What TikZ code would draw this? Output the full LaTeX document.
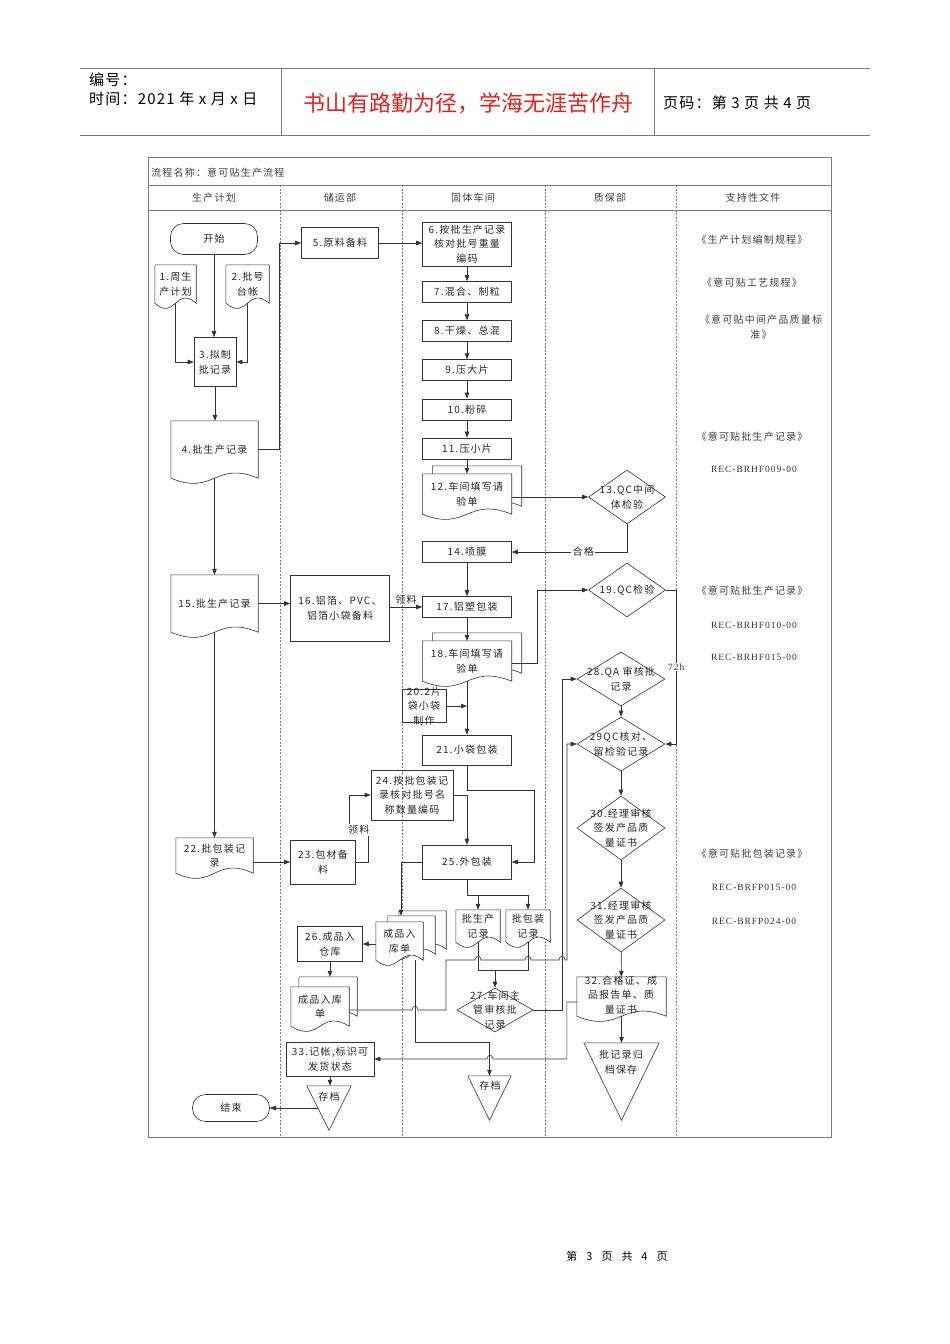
\documentclass[tikz,border=0pt]{standalone}
\usepackage{fontspec}
\setmainfont{Noto Sans CJK SC}
\newfontfamily\cjk{Noto Sans CJK SC}[LetterSpace=12]
\newfontfamily\hdfont{Noto Sans CJK SC}[LetterSpace=8]
\newfontfamily\mottofont{Noto Sans CJK SC}
\newfontfamily\recfont{Liberation Serif}[LetterSpace=10]
\usetikzlibrary{shapes.geometric,arrows.meta,positioning,calc}
\definecolor{inkgray}{HTML}{333333}
\definecolor{framegray}{HTML}{7A7A7A}
\definecolor{mottored}{HTML}{E3211C}
\pgfdeclarelayer{lanes}
\pgfdeclarelayer{docs}
\pgfsetlayers{lanes,docs,main}

% document symbol round a node: name, x offset, y offset (pt, upwards)
\newcommand\docsym[3]{%
  \begin{pgfonlayer}{docs}
  \draw[docline] ([shift={(#2pt,#3pt)}]#1.north west) -- ([shift={(#2pt,#3pt)}]#1.north east)
    -- ([shift={(#2pt,#3pt)}]#1.south east)
    .. controls ([shift={(#2pt,#3pt+18pt)}]#1.south) and ([shift={(#2pt,#3pt-18pt)}]#1.south)
    .. ([shift={(#2pt,#3pt)}]#1.south west) -- cycle;
  \end{pgfonlayer}}
% archive triangle in a node's box
\newcommand\archsym[1]{%
  \begin{pgfonlayer}{docs}
  \draw[docline] (#1.north west) -- (#1.north east) -- (#1.south) -- cycle;
  \end{pgfonlayer}}

\tikzset{
  every node/.style={font=\cjk\fontsize{10}{14.5}\selectfont, text=black!85, inner sep=1pt, align=center},
  box/.style={draw=inkgray, line width=0.6pt, rectangle, minimum width=89, minimum height=21},
  doc/.style={rectangle, inner sep=1pt},
  docline/.style={draw=inkgray, line width=0.6pt, fill=white},
  term/.style={draw=inkgray, line width=0.6pt, rectangle, rounded corners=13pt},
  chk/.style={draw=inkgray, line width=0.6pt, diamond, inner sep=0pt},
  flow/.style={draw=inkgray, line width=0.6pt, -{Triangle[length=6pt,width=4.5pt]}},
  conn/.style={draw=inkgray, line width=0.6pt},
  lane/.style={draw=framegray, line width=0.5pt, dash pattern=on 2pt off 1.5pt},
  refdoc/.style={text=black!75},
  recno/.style={font=\recfont\fontsize{9.5}{11}\selectfont, text=black!80},
  pagehead/.style={font=\hdfont\fontsize{15}{17}\selectfont, text=black},
}

\begin{document}
\begin{tikzpicture}[x=1pt, y=-1pt]
\useasboundingbox (0,0) rectangle (950,1344);

% page header
\begin{pgfonlayer}{lanes}
\draw[framegray, line width=0.8pt] (80,68) -- (870,68) (80,135) -- (870,135)
  (281,68) -- (281,135) (654,68) -- (654,135);
\end{pgfonlayer}
\node[anchor=west, pagehead] (num) at (88,80) {编号：};
\node[anchor=west, pagehead] (date) at (88,99) {时间：2021 年 x 月 x 日};
\node[font=\mottofont\fontsize{22}{25}\selectfont, text=mottored] (motto) at (468,103) {书山有路勤为径，学海无涯苦作舟};
\node[anchor=west, pagehead] (pageno) at (662,103) {页码：第 3 页 共 4 页};

% frame and lanes
\begin{pgfonlayer}{lanes}
\draw[framegray, line width=0.6pt] (148,157) rectangle (831,1137);
\draw[framegray, line width=0.6pt] (148,185) -- (831,185) (148,210) -- (831,210);
\foreach \lx in {280,402,545,676}
  \draw[lane] (\lx,185) -- (\lx,1137);
\end{pgfonlayer}
\node[anchor=west, refdoc] (title) at (150,173) {流程名称：意可贴生产流程};
\foreach \cx/\ct in {214/生产计划, 340/储运部, 473/固体车间, 610/质保部, 753/支持性文件}
  \node[refdoc] (head\cx) at (\cx,198) {\ct};

% lane 1
\node[term, minimum width=87, minimum height=31] (start) at (214,239) {开始};
\node[doc, minimum width=41, minimum height=38] (plan) at (175.5,284) {1.周生\\产计划};
\node[doc, minimum width=43, minimum height=38] (ledger) at (247.5,284) {2.批号\\台帐};
\node[box, minimum width=42, minimum height=49] (draft) at (215,362) {3.拟制\\批记录};
\node[doc, minimum width=87, minimum height=57] (rec4) at (214.5,449.5) {4.批生产记录};
\node[doc, minimum width=87, minimum height=57] (rec15) at (214.5,603.5) {15.批生产记录};
\node[doc, minimum width=77, minimum height=35] (pack22) at (214.5,855.5) {22.批包装记\\录};
\node[term, minimum width=77, minimum height=27] (stop) at (231,1108) {结束};

% lane 2
\node[box, minimum width=77, minimum height=31] (raw) at (340,243) {5.原料备料};
\node[box, minimum width=99, minimum height=66] (foil) at (340,608) {16.铝箔、PVC、\\铝箔小袋备料};
\node[box, minimum width=44, minimum height=33] (sachet) at (424,706) {};
\node (sachettxt) at (sachet) {20.2片\\袋小袋\\制作};
\node[box, minimum width=82, minimum height=50] (check24) at (412,795) {24.按批包装记\\录核对批号名\\称数量编码};
\node[box, minimum width=65, minimum height=44] (mat23) at (323,862) {23.包材备\\料};
\node[box, minimum width=65, minimum height=35] (store26) at (330,944) {26.成品入\\仓库};
\node[doc, minimum width=58, minimum height=39] (slip2) at (320,1006.5) {成品入库\\单};
\node[box, minimum width=88, minimum height=34] (post33) at (330,1059) {33.记帐,标识可\\发货状态};
\node[minimum width=44, minimum height=44, inner sep=0pt] (arch1) at (329,1108) {};
\node (arch1txt) at (329,1097) {存档};

% lane 3
\node[box, minimum height=44] (weigh6) at (467,244) {6.按批生产记录\\核对批号重量\\编码};
\node[box] (mix7) at (467,292) {7.混合、制粒};
\node[box, below=17.5pt of mix7] (dry8) {8.干燥、总混};
\node[box, below=17.5pt of dry8] (press9) {9.压大片};
\node[box, below=17.5pt of press9] (mill10) {10.粉碎};
\node[box, below=17.5pt of mill10] (press11) {11.压小片};
\node[doc, minimum width=89, minimum height=40] (req12) at (467,494) {12.车间填写请\\验单};
\node[box] (coat14) at (467,552) {14.喷膜};
\node[box] (blister17) at (467,607) {17.铝塑包装};
\node[doc, minimum width=89, minimum height=40] (req18) at (467,661) {18.车间填写请\\验单};
\node[box, minimum height=30] (bag21) at (467,750) {21.小袋包装};
\node[box, minimum height=34] (outer25) at (467,862) {25.外包装};
\node[doc, minimum width=47, minimum height=38] (slip3) at (399.5,941) {成品入\\库单};
\node[doc, minimum width=44, minimum height=32] (batchrec) at (478,926) {批生产\\记录};
\node[doc, minimum width=44, minimum height=32] (packrec) at (528,926) {批包装\\记录};
\node[chk, minimum width=76, minimum height=44] (audit27) at (495,1010) {};
\node (audit27txt) at (audit27) {27.车间主\\管审核批\\记录};
\node[minimum width=43, minimum height=44, inner sep=0pt] (arch2) at (489.5,1098) {};
\node (arch2txt) at (490,1086) {存档};

% lane 4
\node[chk, minimum width=77, minimum height=54] (qc13) at (627,497) {};
\node (qc13txt) at (qc13) {13.QC中间\\体检验};
\node[chk, minimum width=77, minimum height=54] (qc19) at (627,590) {};
\node (qc19txt) at (qc19) {19.QC检验};
\node[chk, minimum width=88, minimum height=54] (qa28) at (621,679) {};
\node (qa28txt) at (qa28) {28.QA 审核批\\记录};
\node[chk, minimum width=88, minimum height=54] (qc29) at (621,744) {};
\node (qc29txt) at (qc29) {29QC核对、\\留检验记录};
\node[chk, minimum width=88, minimum height=64] (cert30) at (621,828) {};
\node (cert30txt) at (cert30) {30.经理审核\\签发产品质\\量证书};
\node[chk, minimum width=88, minimum height=64] (cert31) at (621,920) {};
\node (cert31txt) at (cert31) {31.经理审核\\签发产品质\\量证书};
\node[doc, minimum width=89, minimum height=39] (cert32) at (621.5,996.5) {};
\node (cert32txt) at (621,995) {32.合格证、成\\品报告单、质\\量证书};
\node[minimum width=75, minimum height=77, inner sep=0pt] (arch3) at (621.5,1081.5) {};
\node (arch3txt) at (621,1062) {批记录归\\档保存};

% lane 5
\node[refdoc] (sop1) at (752,240) {《生产计划编制规程》};
\node[refdoc] (sop2) at (752,283) {《意可贴工艺规程》};
\node[refdoc] (sop3) at (761,327) {《意可贴中间产品质量标\\准》};
\node[refdoc] (sop4) at (752,437) {《意可贴批生产记录》};
\node[recno] (recA) at (754,469) {REC-BRHF009-00};
\node[refdoc] (sop5) at (752,591) {《意可贴批生产记录》};
\node[recno] (recB) at (754,625) {REC-BRHF010-00};
\node[recno] (recC) at (754,657) {REC-BRHF015-00};
\node[refdoc] (sop6) at (752,854) {《意可贴批包装记录》};
\node[recno] (recD) at (754,887) {REC-BRFP015-00};
\node[recno] (recE) at (754,921) {REC-BRFP024-00};

% document outlines
\docsym{plan}{0}{0}
\docsym{ledger}{0}{0}
\docsym{rec4}{0}{0}
\docsym{rec15}{0}{0}
\docsym{pack22}{0}{0}
\docsym{req12}{10}{8}
\docsym{req12}{0}{0}
\docsym{req18}{10}{8}
\docsym{req18}{0}{0}
\docsym{slip3}{23}{11}
\docsym{slip3}{12}{6}
\docsym{slip3}{0}{0}
\docsym{batchrec}{0}{0}
\docsym{packrec}{0}{0}
\docsym{slip2}{8}{10}
\docsym{slip2}{0}{0}
\docsym{cert32}{0}{0}
\archsym{arch1}
\archsym{arch2}
\archsym{arch3}

% connectors
\draw[flow] (start.south) -- (start.south |- draft.north);
\draw[flow] (plan.south) |- (draft.west);
\draw[flow] (ledger.south) |- (draft.east);
\draw[flow] (draft.south) -- (draft.south |- rec4.north);
\draw[flow] (rec4.east) -- ++(21.5,0) |- (raw.west);
\draw[flow] (raw.east) -- (raw.east -| weigh6.west);
\draw[flow] (weigh6) -- (mix7);
\draw[flow] (mix7) -- (dry8);
\draw[flow] (dry8) -- (press9);
\draw[flow] (press9) -- (mill10);
\draw[flow] (mill10) -- (press11);
\draw[flow] (press11) -- (req12);
\draw[flow] (req12.east |- qc13) -- (qc13.west);
\draw[flow] (qc13.south) |- (coat14.east) node[pos=0.69, fill=white, inner sep=1.5pt] (passlbl) {合格};
\draw[flow] (coat14) -- (blister17);
\draw[flow] (rec4.south) -- (rec15.north);
\draw[flow] (rec15.east) -- (rec15.east -| foil.west);
\draw[flow] (foil.east |- blister17) -- (blister17.west) node[midway, above=1pt] (takelbl1) {领料};
\draw[flow] (blister17) -- (req18);
\draw[flow] ([yshift=-2pt]req18.east) -- ++(26,0) |- (qc19.west);
\draw[flow] (qc19.east) -- ++(10.5,0) |- (qc29.east) node[pos=0.25, fill=white, recno] (holdlbl) {72h};
\draw[flow] (req18.south) -- (bag21.north);
\draw[flow] (sachet.east) -- (sachet.east -| bag21.north);
\draw[flow] (rec15.south) -- (pack22.north);
\draw[flow] (pack22.east |- mat23) -- (mat23.west);
\draw[flow] (mat23.east) -- ++(12.5,0) -- ++(0,-32) -- ++(-19,0) node[midway, fill=white, inner sep=1pt] (takelbl2) {领料} |- (check24.west);
\draw[flow] (check24.east) -| (outer25.north);
\draw[flow] (bag21.south) -- ++(0,25) -- ++(67,0) |- (outer25.east);
\draw[flow] (outer25.west) -| ([xshift=1.5pt, yshift=6pt]slip3.north);
\coordinate (fork25) at ($(outer25.south)+(0,16)$);
\draw[conn] (outer25.south) -- (fork25);
\draw[flow] (fork25) -| (batchrec.north);
\draw[flow] (fork25) -| (packrec.north);
\draw[flow] (slip3.west |- store26) -- (store26.east);
\coordinate (slip2top) at ([shift={(8pt,10pt)}]slip2.north);
\draw[flow] (store26.south) -- (store26.south |- slip2top);
\coordinate (join27) at (495,970);
\draw[conn] (batchrec.south) |- (join27) -| (packrec.south);
\draw[flow] (join27) -- (audit27.north);
\draw[flow] (audit27.east) -- ++(29,0) |- (qa28.west);
\draw[flow] ([yshift=-3.5pt]slip2.east) -- (412,1010) .. controls (412,1005) and (418,1005) .. (418,1010)
  -- (446,1010) -- (446,960) -- (475,960) .. controls (475,955) and (481,955) .. (481,960)
  -- (525,960) .. controls (525,955) and (531,955) .. (531,960)
  -- (559,960) .. controls (559,955) and (565,955) .. (565,960) -- (567,960) |- (qc29.west);
\draw[flow] ([xshift=15.5pt]slip3.south) -- ++(0,82) -| (arch2.north);
\draw[flow] ([yshift=-5.5pt]cert32.west) -- ++(-10,0) -- ++(0,57) -- (493,1059)
  .. controls (493,1054) and (487,1054) .. (487,1059) -- (post33.east);
\draw[flow] (qa28) -- (qc29);
\draw[flow] (qc29) -- (cert30);
\draw[flow] (cert30) -- (cert31);
\draw[flow] (cert31) -- (cert32);
\draw[flow] (cert32) -- (arch3.north);
\draw[flow] (post33.south) -- (post33.south |- arch1.north);
\draw[flow] ($(arch1.west)!0.5!(arch1.center)$) -- (stop.east);

% page footer
\node[font=\hdfont\fontsize{11}{13}\selectfont, text=black] (footer) at (617,1256) {第\hspace{9pt}3\hspace{9pt}页\hspace{9pt}共\hspace{9pt}4\hspace{9pt}页};
\end{tikzpicture}
\end{document}
